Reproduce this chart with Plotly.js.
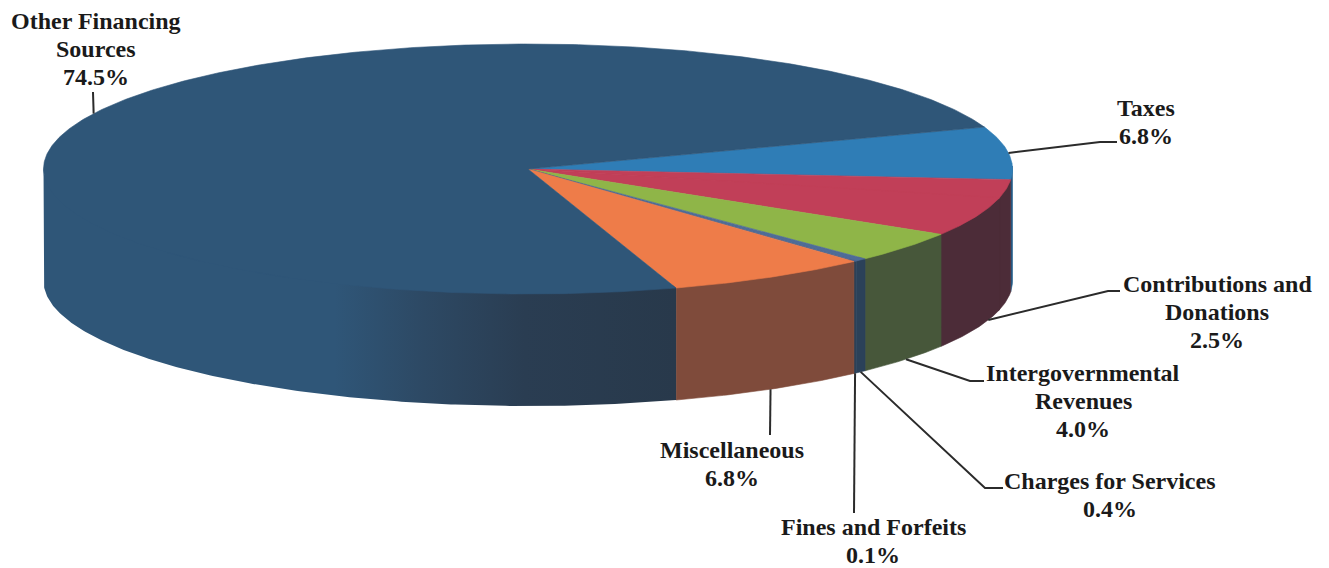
<!DOCTYPE html>
<html>
<head>
<meta charset="utf-8">
<title>Revenue sources</title>
<script src="https://cdn.plot.ly/plotly-3.0.1.min.js"></script>
<style>html,body{margin:0;padding:0;background:#fff}#chart{width:1329px;height:568px}</style>
</head>
<body>
<div id="chart"></div>
<script>
// Revenue shares in percent, clockwise from the start angle of the disc.
const sliceNames = ['Taxes', 'Contributions and Donations', 'Intergovernmental Revenues',
  'Charges for Services', 'Fines and Forfeits', 'Miscellaneous', 'Other Financing Sources'];
const sliceShares = [6.8, 2.5, 4.0, 0.4, 0.1, 6.8, 74.5];
// The itemised shares add up to 95.1; the balance sits beside Contributions and Donations.
const unitemisedShare = 4.9;
const unitemisedAfter = 'Contributions and Donations';

const topColors = ['#2f7db6', '#c13f58', '#8fb548', '#4f6c97', '#4a6690', '#ee7c49', '#2f5678'];
const wallColors = ['#245f8c', '#4c2c38', '#47573a', '#2b4159', '#2b4159', '#7f4b3b', '#2a3b4d'];

const labelLines = [['Taxes'], ['Contributions and', 'Donations'], ['Intergovernmental', 'Revenues'],
  ['Charges for Services'], ['Fines and Forfeits'], ['Miscellaneous'], ['Other Financing', 'Sources']];
const labelCenterX = [1146, 1217, 1083, 1110, 873, 732, 96];
const labelFirstLineY = [108, 284, 373, 481, 527, 450, 21];
const labelLineGap = 28;
// Leader line bends, from the rim outward to the text.
const leaderBends = [
  [[1100, 142], [1117, 142]],
  [[1108, 291], [1120, 291]],
  [[970, 381], [984, 381]],
  [[985, 488], [1003, 488]],
  [[854, 513]],
  [[770, 435]],
  [[93, 92]]
];

// Projection of the tilted disc on the pixel-scaled axes.
const disc = {cx: 528, cy: 169, rx: 484.5, ry: 125, depth: 112, startDeg: 19.6};
const rim = deg => [disc.cx + disc.rx * Math.cos(deg * Math.PI / 180),
                    disc.cy - disc.ry * Math.sin(deg * Math.PI / 180)];

function arc(from, to) {
  const n = Math.max(2, Math.ceil(Math.abs(from - to) / 0.5));
  const pts = [];
  for (let i = 0; i <= n; i++) pts.push(rim(from + (to - from) * i / n));
  return pts;
}

function polygon(name, color, pts, extra) {
  return Object.assign({
    type: 'scatter', mode: 'lines', fill: 'toself', fillcolor: color,
    x: pts.map(p => p[0]), y: pts.map(p => p[1]),
    line: {color: color, width: 0.6}, name: name, text: name,
    hoverinfo: 'text', showlegend: false
  }, extra || {});
}

// Turn the shares into wedges; the balance wedge laps slightly under its same-coloured neighbour.
const wedges = [];
let angle = disc.startDeg;
sliceNames.forEach((name, i) => {
  const from = angle;
  const end = from - sliceShares[i] * 3.6;
  wedges.push({name, from, to: end, top: topColors[i], wall: wallColors[i]});
  angle = end;
  if (name === unitemisedAfter) {
    const balanceEnd = angle - unitemisedShare * 3.6;
    wedges.push({name: 'Balance', from: angle + 0.6, to: balanceEnd, top: topColors[i], wall: wallColors[i]});
    angle = balanceEnd;
  }
});

const traces = [];

// Outer walls: only the near half of the rim; the upper edge runs a little under the top face.
wedges.forEach(w => {
  const from = Math.min(w.from, 0);
  const to = Math.max(w.to, -180);
  if (from <= to) return;
  const upper = arc(from, to);
  const lower = upper.slice().reverse().map(p => [p[0], p[1] + disc.depth]);
  const tucked = upper.map(p => [p[0], p[1] - 3]);
  const extra = w.name === 'Other Financing Sources' ? {
    fillgradient: {
      type: 'horizontal',
      colorscale: [[0, '#2f5678'], [0.46, '#2f5678'], [0.6, '#2d4964'], [0.76, '#2a3d52'], [1, '#28394b']]
    },
    line: {width: 0}
  } : {};
  traces.push(polygon(w.name, w.wall, tucked.concat(lower, [tucked[0]]), extra));
});

// Top face.
wedges.forEach(w => {
  const pts = [[disc.cx, disc.cy]].concat(arc(w.from, w.to), [[disc.cx, disc.cy]]);
  traces.push(polygon(w.name, w.top, pts));
});

// Leader lines start on the rim at the middle of their wedge.
const annotations = [];
const textFont = {family: '"Liberation Serif", "Times New Roman", serif', size: 24, color: '#1a1a1a', weight: 700};
sliceNames.forEach((name, i) => {
  const own = wedges.filter(w => w.name === name || (name === unitemisedAfter && w.name === 'Balance'));
  const mid = (own[0].from + own[own.length - 1].to) / 2;
  const p = rim(mid);
  const onFront = Math.sin(mid * Math.PI / 180) < -0.2;
  const start = [p[0], p[1] + (onFront ? disc.depth : 0)];
  const pts = [start].concat(leaderBends[i]);
  traces.push({
    type: 'scatter', mode: 'lines', x: pts.map(q => q[0]), y: pts.map(q => q[1]),
    line: {color: '#2b2b2b', width: 2}, hoverinfo: 'skip', showlegend: false
  });
  labelLines[i].concat(sliceShares[i].toFixed(1) + '%').forEach((line, k) => {
    annotations.push({
      x: labelCenterX[i], y: labelFirstLineY[i] + k * labelLineGap, xref: 'x', yref: 'y',
      xanchor: 'center', yanchor: 'middle', showarrow: false, align: 'center',
      text: line, font: textFont
    });
  });
});

const hiddenAxis = {visible: false, fixedrange: true, zeroline: false, showgrid: false};
Plotly.newPlot('chart', traces, {
  width: 1329, height: 568,
  margin: {l: 0, r: 0, t: 0, b: 0},
  paper_bgcolor: '#ffffff', plot_bgcolor: '#ffffff',
  showlegend: false,
  xaxis: Object.assign({range: [0, 1329]}, hiddenAxis),
  yaxis: Object.assign({range: [568, 0]}, hiddenAxis),
  annotations: annotations
}, {displayModeBar: false});
</script>
</body>
</html>
